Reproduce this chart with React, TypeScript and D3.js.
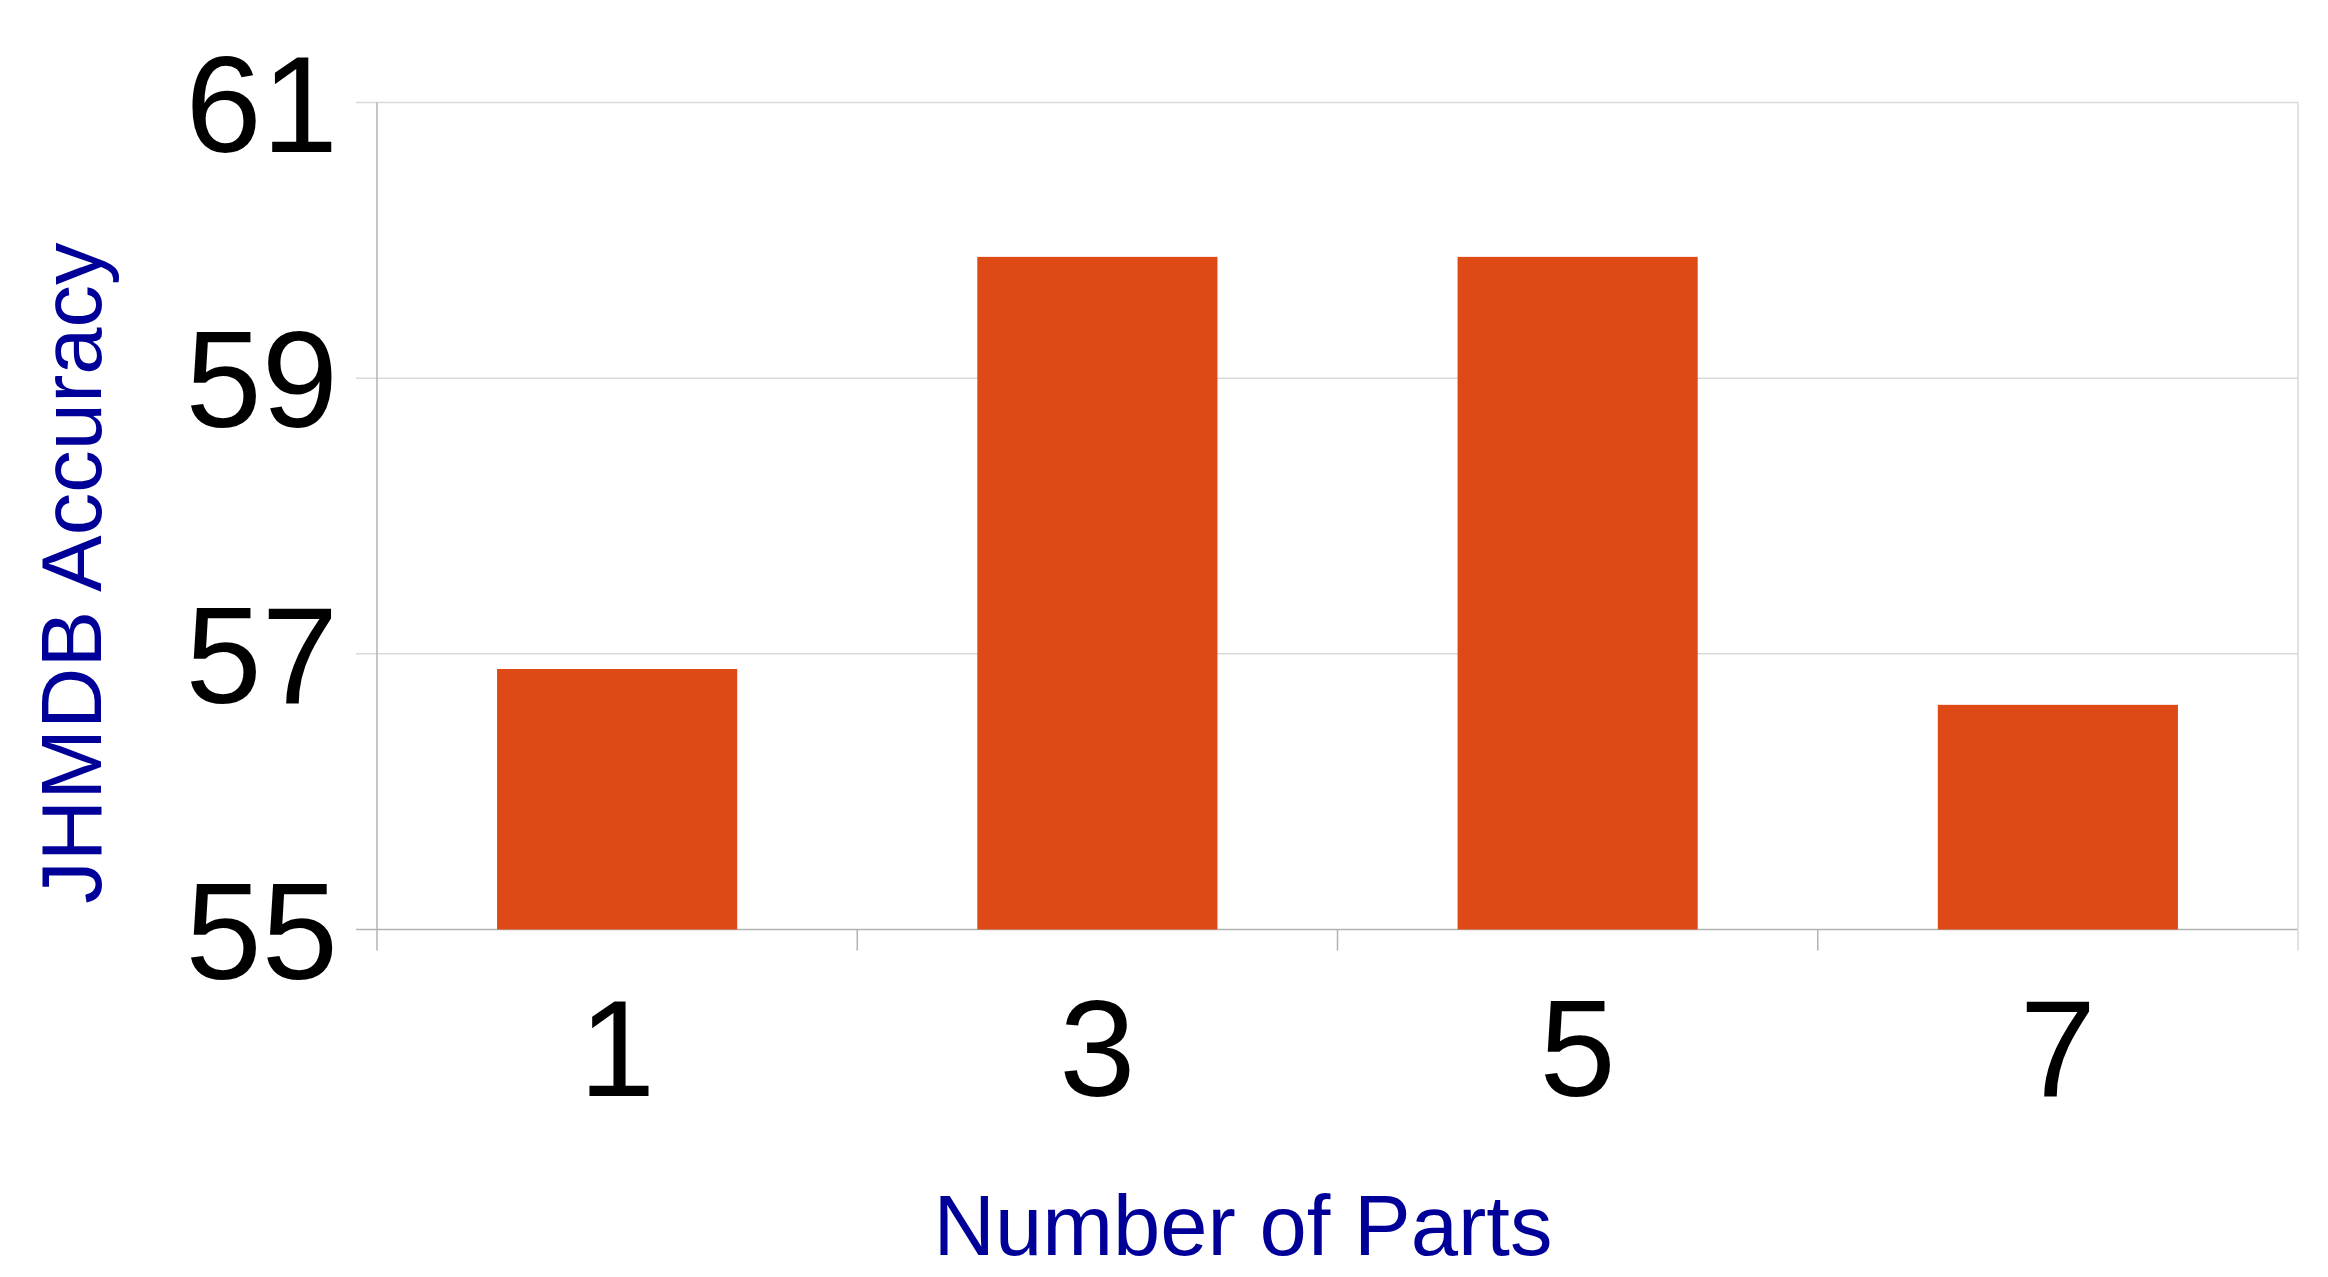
import React from 'react';
import * as d3 from 'd3';

const categories = ['1', '3', '5', '7'];
const accuracy = [56.89, 59.88, 59.88, 56.63];
const yTicks = [55, 57, 59, 61];

const W = 2328;
const H = 1277;

const App = () => {
  const left = 377;
  const right = 2298;
  const top = 102.5;
  const bottom = 929.5;
  const tickLen = 21;

  const x = d3.scaleBand<string>()
    .domain(categories)
    .range([left, right])
    .paddingInner(0.5)
    .paddingOuter(0.25);

  const y = d3.scaleLinear().domain([55, 61]).range([bottom, top]);

  // boundaries between categories, where the x ticks sit
  const step = x.step();
  const bounds = d3.range(categories.length + 1).map((i) => left + i * step);

  const font = '"Liberation Sans", Arial, sans-serif';
  const gridColor = '#d9d9d9';
  const axisColor = '#b3b3b3';

  return (
    <svg
      width={W}
      height={H}
      viewBox={`0 0 ${W} ${H}`}
      style={{ position: 'absolute', left: 0, top: 0, background: '#fff' }}
    >
      {/* horizontal grid */}
      {yTicks.map((t) => (
        <line
          key={`g${t}`}
          x1={left - tickLen}
          x2={right}
          y1={y(t)}
          y2={y(t)}
          stroke={t === 55 ? axisColor : gridColor}
          strokeWidth={1.5}
        />
      ))}

      {/* bars */}
      {categories.map((c, i) => (
        <rect
          key={c}
          x={x(c)}
          y={y(accuracy[i])}
          width={x.bandwidth()}
          height={bottom - y(accuracy[i])}
          fill="#de4a16"
        />
      ))}

      {/* left axis line */}
      <line x1={left} x2={left} y1={top} y2={bottom + tickLen} stroke={axisColor} strokeWidth={1.5} />
      {/* right border */}
      <line x1={right} x2={right} y1={top} y2={bottom + tickLen} stroke={gridColor} strokeWidth={1.5} />

      {/* x ticks */}
      {bounds.slice(1, -1).map((b) => (
        <line key={`t${b}`} x1={b} x2={b} y1={bottom} y2={bottom + tickLen} stroke={axisColor} strokeWidth={1.5} />
      ))}

      {/* y tick labels */}
      {yTicks.map((t) => (
        <text
          key={`l${t}`}
          x={338}
          y={y(t) + 49}
          textAnchor="end"
          fontFamily={font}
          fontSize={137}
          fill="#000"
        >
          {t}
        </text>
      ))}

      {/* x tick labels */}
      {categories.map((c) => (
        <text
          key={`xl${c}`}
          x={(x(c) ?? 0) + x.bandwidth() / 2}
          y={1096}
          textAnchor="middle"
          fontFamily={font}
          fontSize={137}
          fill="#000"
        >
          {c}
        </text>
      ))}

      {/* axis titles */}
      <text
        x={1243}
        y={1255}
        textAnchor="middle"
        fontFamily={font}
        fontSize={85}
        fill="#000099"
      >
        Number of Parts
      </text>
      <text
        transform={`translate(101, 573) rotate(-90)`}
        textAnchor="middle"
        fontFamily={font}
        fontSize={85}
        fill="#000099"
      >
        JHMDB Accuracy
      </text>
    </svg>
  );
};

export default App;
